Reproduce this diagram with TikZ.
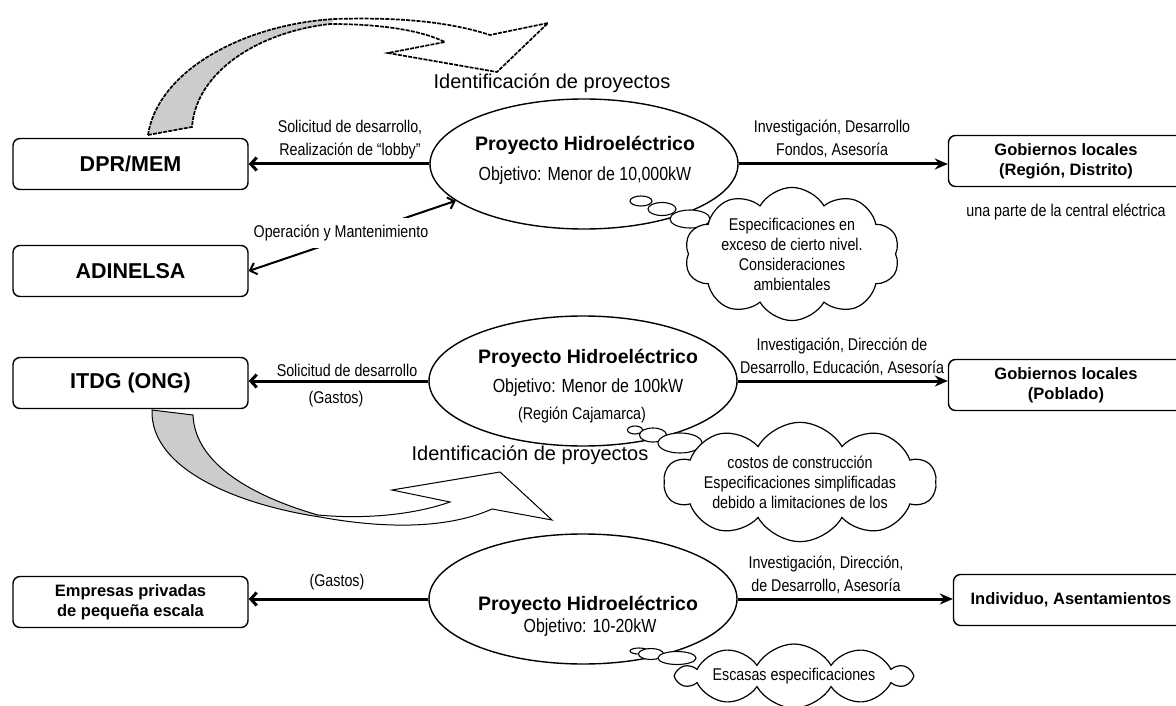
\documentclass[tikz,border=0pt]{standalone}
\usepackage{fontspec}
\setmainfont{Liberation Sans}
\newfontfamily\narrowfont[FakeStretch=0.84]{Liberation Sans}
\usetikzlibrary{shapes.geometric,shapes.symbols,arrows.meta}

\begin{document}
\begin{tikzpicture}[x=1pt,y=-1pt,
  every node/.style={inner sep=0pt},
  party/.style={draw,fill=white,rounded corners=7pt,line width=1.4pt,
    minimum width=235pt,minimum height=51pt,align=center,
    font=\bfseries\fontsize{21.5}{24}\selectfont},
  partysm/.style={party,font=\bfseries\fontsize{16.5}{20}\selectfont},
  project/.style={ellipse,draw,fill=white,line width=1.4pt,
    minimum width=308pt,minimum height=130pt},
  ptitle/.style={font=\bfseries\fontsize{19.5}{22}\selectfont},
  pgoal/.style={font=\narrowfont\fontsize{19}{22}\selectfont},
  lbl/.style={font=\narrowfont\fontsize{17}{23}\selectfont,align=center},
  idlbl/.style={font=\fontsize{20}{24}\selectfont},
  thought/.style={cloud,draw,fill=white,line width=1.2pt,cloud puffs=10,
    cloud puff arc=120,cloud ignores aspect,align=center,
    font=\narrowfont\fontsize{17}{20}\selectfont},
  bubble/.style={ellipse,draw,fill=white,line width=1.1pt},
  flow/.style={line width=3pt,-{Stealth[length=13pt,width=11pt]}},
  back/.style={line width=3pt,-{Straight Barb[length=6pt,width=13pt]}},
  both/.style={line width=2pt,{Straight Barb[length=6pt,width=12pt]}-{Straight Barb[length=6pt,width=12pt]}},
  ribbon/.style={line width=1.7pt,dash pattern=on 4pt off 1.2pt},
]
\clip (0,0) rectangle (1176,706);

% curved arrow: project identification, upper level
\fill[white] (148,135) .. controls (158,70) and (245,24) .. (335,19)
  .. controls (400,17) and (450,22) .. (490,35) -- (548,23) -- (497,72)
  -- (388,53) -- (445,42) .. controls (420,30) and (380,24) .. (330,24)
  .. controls (258,32) and (196,72) .. (192,127) -- cycle;
\fill[gray!40] (148,135) .. controls (158,70) and (245,24) .. (335,19)
  -- (330,24) .. controls (258,32) and (196,72) .. (192,127) -- cycle;
\draw[ribbon] (148,135) .. controls (158,70) and (245,24) .. (335,19)
  .. controls (400,17) and (450,22) .. (490,35) -- (548,23) -- (497,72)
  -- (388,53) -- (445,42) .. controls (420,30) and (380,24) .. (330,24)
  .. controls (258,32) and (196,72) .. (192,127) -- cycle;

% curved arrow: project identification, middle level
\fill[white] (152,410) .. controls (150,470) and (240,505) .. (320,517)
  .. controls (380,528) and (445,530) .. (492,509) -- (552,520) -- (500,472)
  -- (392,490) -- (450,502) .. controls (410,516) and (360,519) .. (318,515)
  .. controls (255,497) and (195,465) .. (193,415) -- cycle;
\fill[gray!40] (152,410) .. controls (150,470) and (240,505) .. (320,517)
  -- (318,515) .. controls (255,497) and (195,465) .. (193,415) -- cycle;
\draw[line width=1pt] (152,410) .. controls (150,470) and (240,505) .. (320,517)
  .. controls (380,528) and (445,530) .. (492,509) -- (552,520) -- (500,472)
  -- (392,490) -- (450,502) .. controls (410,516) and (360,519) .. (318,515)
  .. controls (255,497) and (195,465) .. (193,415) -- cycle;

% actors
\node[party] (dpr) at (130.5,164) {DPR/MEM};
\node[party] (adi) at (130.5,271) {ADINELSA};
\node[party] (itdg) at (130.5,383) {ITDG (ONG)};
\node[partysm,align=center] (emp) at (130.5,602) {Empresas privadas\\de peque\~na escala};
\node[partysm] (gob1) at (1066,161) {Gobiernos locales\\(Regi\'on, Distrito)};
\node[partysm] (gob2) at (1066,385) {Gobiernos locales\\(Poblado)};
\node[partysm] (ind) at (1071,600) {Individuo, Asentamientos};

% projects
\node[project] (p1) at (584,164) {};
\node[project] (p2) at (583,381) {};
\node[project] (p3) at (583,599) {};
\node[ptitle] (p1a) at (585,145) {Proyecto Hidroel\'ectrico};
\node[pgoal] (p1b) at (585,176) {Objetivo: Menor de 10,000kW};
\node[ptitle] (p2a) at (588,358) {Proyecto Hidroel\'ectrico};
\node[pgoal] (p2b) at (588,388) {Objetivo: Menor de 100kW};
\node[lbl] (p2c) at (582,415) {(Regi\'on Cajamarca)};
\node[ptitle] (p3a) at (588,605) {Proyecto Hidroel\'ectrico};
\node[pgoal] (p3b) at (590,628) {Objetivo: 10-20kW};

% connectors
\draw[back] (p1.west) -- (p1.west -| dpr.east);
\draw[flow] (p1.east) -- (p1.east -| gob1.west);
\draw[both] (adi.east) -- (p1.196);
\draw[back] (p2.west) -- (p2.west -| itdg.east);
\draw[flow] (p2.east) -- (p2.east -| gob2.west);
\draw[back] (p3.west) -- (p3.west -| emp.east);
\draw[flow] (p3.east) -- (p3.east -| ind.west);

% connector labels
\node[lbl] (l1) at (350,140) {Solicitud de desarrollo,\\Realizaci\'on de “lobby”};
\node[lbl] (l2) at (832,139) {Investigaci\'on, Desarrollo\\Fondos, Asesor\'ia};
\node[lbl,fill=white,inner xsep=2pt,inner ysep=7pt] (l3) at (341,233) {Operaci\'on y Mantenimiento};
\node[lbl] (l4) at (347,370) {Solicitud de desarrollo};
\node[lbl] (l5) at (336,399) {(Gastos)};
\node[lbl] (l6) at (842,357) {Investigaci\'on, Direcci\'on de\\Desarrollo, Educaci\'on, Asesor\'ia};
\node[lbl] (l7) at (337,582) {(Gastos)};
\node[lbl] (l8) at (826,575) {Investigaci\'on, Direcci\'on,\\de Desarrollo, Asesor\'ia};
\node[lbl] (l9) at (1066,212) {una parte de la central el\'ectrica};
\node[idlbl] (id1) at (552,83) {Identificaci\'on de proyectos};
\node[idlbl] (id2) at (530,455) {Identificaci\'on de proyectos};

% thought bubbles
\node[bubble,minimum width=22pt,minimum height=10pt] (b1a) at (641,201) {};
\node[bubble,minimum width=28pt,minimum height=13pt] (b1b) at (662,209) {};
\node[bubble,minimum width=40pt,minimum height=18pt] (b1c) at (690,219) {};
\node[thought,minimum width=215pt,minimum height=123pt] (c1) at (792,254)
  {Especificaciones en\\exceso de cierto nivel.\\Consideraciones\\ambientales};

\node[bubble,minimum width=15pt,minimum height=8pt] (b2a) at (635,430) {};
\node[bubble,minimum width=27pt,minimum height=14pt] (b2b) at (653,435) {};
\node[bubble,minimum width=44pt,minimum height=20pt] (b2c) at (680,443) {};
\node[thought,minimum width=241pt,minimum height=117pt] (c2) at (800,482)
  {costos de construcci\'on\\Especificaciones simplificadas\\debido a limitaciones de los};

\node[bubble,minimum width=18pt,minimum height=6pt] (b3a) at (639,651) {};
\node[bubble,minimum width=25pt,minimum height=11pt] (b3b) at (651,654) {};
\node[bubble,minimum width=38pt,minimum height=13pt] (b3c) at (677,658) {};
\node[thought,minimum width=232pt,minimum height=64pt] (c3) at (794,676)
  {Escasas especificaciones};
\end{tikzpicture}
\end{document}
